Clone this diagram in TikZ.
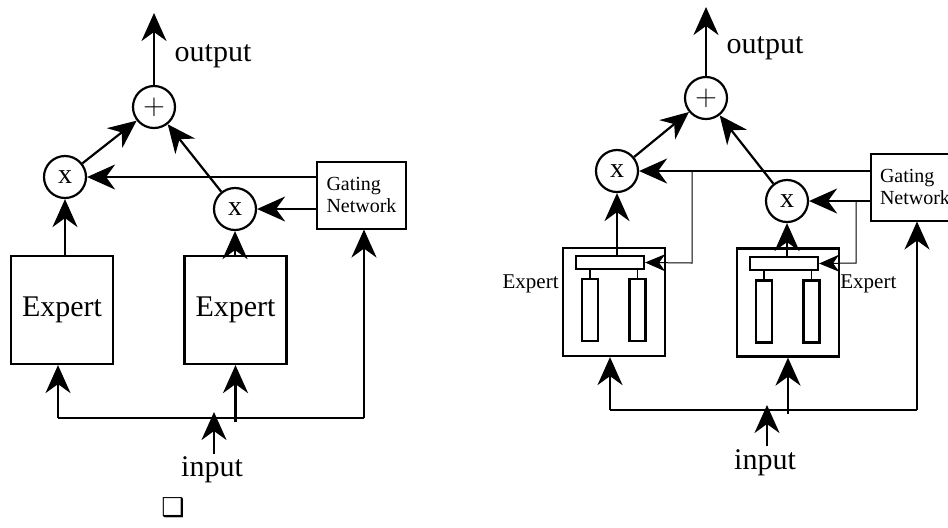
\documentclass[tikz,border=0pt]{standalone}
\usepackage{fontspec}
\setmainfont{Liberation Serif}
\newfontfamily\symfont{DejaVu Sans}
\usetikzlibrary{arrows.meta}

\begin{document}
\begin{tikzpicture}[x=0.5pt,y=-0.5pt,
  every node/.style={align=center},
  opnode/.style={draw,circle,line width=1.1pt,minimum size=21pt,inner sep=0pt,font=\fontsize{14}{14}\selectfont},
  expbox/.style={draw,line width=1.1pt,minimum width=51pt,minimum height=54pt,inner sep=0pt},
  gatebox/.style={draw,line width=1pt,minimum width=44.5pt,minimum height=33.5pt,inner sep=0pt,align=left,font=\fontsize{10}{11}\selectfont},
  bar/.style={draw,line width=1.1pt,minimum width=34pt,minimum height=6.5pt,inner sep=0pt},
  col/.style={draw,line width=1.1pt,minimum width=8pt,minimum height=31pt,inner sep=0pt},
  flow/.style={line width=1.1pt,-{Stealth[length=14pt,width=12.5pt,inset=4.5pt]}},
  thinflow/.style={line width=.5pt,-{Stealth[length=10pt,width=8.5pt,inset=3pt,line width=.5pt]}},
  big/.style={font=\fontsize{15}{15}\selectfont}]
\useasboundingbox (0,0) rectangle (948,527);

% left: plain experts
\node[opnode] (plus) at (154,107) {$+$};
\node[opnode] (xL) at (65,177) {x};
\node[opnode] (xR) at (235,209) {x};
\node[gatebox] (gate) at (361.5,195) {Gating\\Network};
\node[expbox,big] (expL) at (62,310) {Expert};
\node[expbox,big] (expR) at (235.5,310) {Expert};
\node[big] (out) at (213,56) {output};
\node[big,inner sep=0pt] (in) at (212,470) {input};
\node[font=\symfont\fontsize{13}{13}\selectfont,inner sep=0pt] (box) at (173,508) {❑};
\coordinate (outtip) at (154,13);
\coordinate (bl) at (58,418);
\coordinate (br) at (364,418);
\coordinate (intip) at (214,412);
\coordinate (inend) at (214,454);

\draw[flow] (plus) -- (outtip);
\draw[flow] (xL) -- (plus);
\draw[flow] (xR) -- (plus);
\draw[flow] (gate.west |- xL) -- (xL);
\draw[flow] (gate.west |- xR) -- (xR);
\draw[flow] (xL |- expL.north) -- (xL);
\draw[flow] (xR |- expR.north) -- (xR);
\draw[line width=1.1pt] (bl) -- (br);
\draw[flow] (bl) -- (bl |- expL.south);
\draw[flow] ([yshift=-2]expR.south |- bl) -- (expR.south);
\draw[flow] (br) -- (br |- gate.south);
\draw[flow] (inend) -- (intip);

% right: experts made of smaller nets
\node[opnode] (plus2) at (706,98) {$+$};
\node[opnode] (xL2) at (617,171) {x};
\node[opnode] (xR2) at (787,201) {x};
\node[gatebox] (gate2) at (915,187) {Gating\\Network};
\node[expbox] (expL2) at (614,302) {};
\node[expbox] (expR2) at (788,302.5) {};
\node[bar] (barL) at (610,262.5) {};
\node[col] (colL1) at (590,310) {};
\node[col] (colL2) at (637.5,310) {};
\node[bar] (barR) at (784,263.5) {};
\node[col] (colR1) at (764,311.5) {};
\node[col] (colR2) at (811.5,311.5) {};
\node[anchor=east,inner sep=0pt,font=\fontsize{10.5}{11}\selectfont] (labL) at (559,284) {Expert};
\node[anchor=west,inner sep=0pt,font=\fontsize{10.5}{11}\selectfont] (labR) at (840,284) {Expert};
\node[big] (out2) at (765,48) {output};
\node[big,inner sep=0pt] (in2) at (765,463) {input};
\coordinate (outtip2) at (706,7);
\coordinate (bl2) at (610,410);
\coordinate (br2) at (917,410);
\coordinate (intip2) at (767,405);
\coordinate (inend2) at (767,446);
\coordinate (tapL) at (692,263);
\coordinate (tapR) at (856,263);

\draw[flow] (plus2) -- (outtip2);
\draw[flow] (xL2) -- (plus2);
\draw[flow] (xR2) -- (plus2);
\draw[flow] (gate2.west |- xL2) -- (xL2);
\draw[flow] (gate2.west |- xR2) -- (xR2);
\draw[thinflow] (tapL |- xL2) -- (tapL) -- (barL.east);
\draw[thinflow] (tapR |- xR2) -- (tapR) -- (barR.east);
\draw[flow] (xL2 |- barL.north) -- (xL2);
\draw[flow] (xR2 |- barR.north) -- (xR2);
\draw[line width=.6pt] (colL1.north) -- (colL1 |- barL.south)
  (colL2.north) -- (colL2 |- barL.south)
  (colR1.north) -- (colR1 |- barR.south)
  (colR2.north) -- (colR2 |- barR.south);
\draw[line width=1.1pt] (bl2) -- (br2);
\draw[flow] (bl2) -- (bl2 |- expL2.south);
\draw[flow] ([yshift=-2]expR2.south |- bl2) -- (expR2.south);
\draw[flow] (br2) -- (br2 |- gate2.south);
\draw[flow] (inend2) -- (intip2);
\end{tikzpicture}
\end{document}
